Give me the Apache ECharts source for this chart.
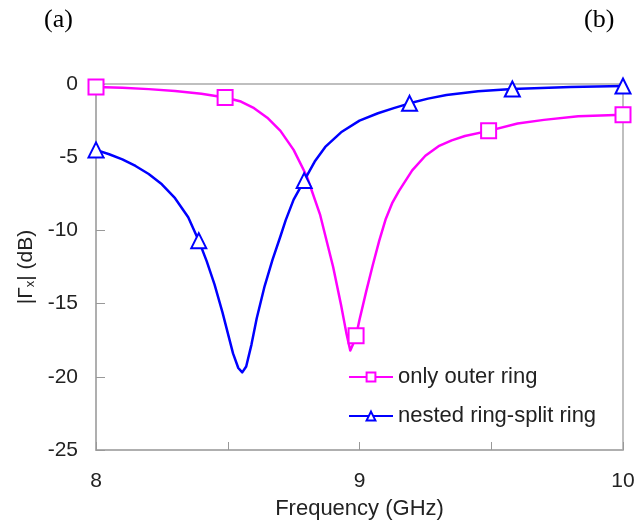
<!DOCTYPE html>
<html>
<head>
<meta charset="utf-8">
<script src="https://cdn.jsdelivr.net/npm/echarts@6/dist/echarts.min.js"></script>
<style>
html,body{margin:0;padding:0;background:#fff;}
#c{width:638px;height:526px;}
</style>
</head>
<body>
<div id="c"></div>
<script>
// Frequency (GHz) and |Γx| (dB)
const outerFreq = [8.00, 8.10, 8.20, 8.30, 8.40, 8.49, 8.55, 8.60, 8.65, 8.70, 8.75, 8.80, 8.85, 8.90, 8.93, 8.95, 8.965, 8.975, 8.987, 9.00, 9.025, 9.05, 9.075, 9.10, 9.125, 9.15, 9.20, 9.25, 9.30, 9.35, 9.40, 9.49, 9.60, 9.70, 9.83, 10.00];
const outerDb   = [-0.2, -0.25, -0.35, -0.48, -0.66, -0.92, -1.2, -1.65, -2.3, -3.2, -4.5, -6.3, -8.9, -12.5, -15.1, -17.0, -18.2, -17.8, -17.2, -16.1, -14.2, -12.4, -10.7, -9.2, -8.1, -7.3, -5.9, -4.9, -4.25, -3.85, -3.55, -3.2, -2.7, -2.45, -2.2, -2.1];
const outerMarkers = [8.00, 8.49, 8.987, 9.49, 10.00];

const nestedFreq = [8.00, 8.05, 8.10, 8.15, 8.20, 8.25, 8.30, 8.35, 8.39, 8.42, 8.45, 8.48, 8.50, 8.52, 8.54, 8.555, 8.57, 8.59, 8.61, 8.64, 8.67, 8.70, 8.72, 8.75, 8.79, 8.83, 8.87, 8.93, 9.00, 9.07, 9.13, 9.19, 9.26, 9.33, 9.45, 9.58, 9.80, 10.00];
const nestedDb   = [-4.5, -4.8, -5.15, -5.6, -6.15, -6.85, -7.8, -9.1, -10.7, -12.1, -13.7, -15.6, -17.0, -18.4, -19.4, -19.7, -19.3, -17.8, -16.0, -13.8, -12.0, -10.4, -9.3, -7.9, -6.6, -5.3, -4.3, -3.3, -2.5, -2.0, -1.65, -1.32, -1.0, -0.75, -0.5, -0.34, -0.2, -0.14];
const nestedMarkers = [8.00, 8.39, 8.79, 9.19, 9.58, 10.00];

const seriesNames = ['only outer ring', 'nested ring-split ring'];
const xTickLabels = [8, 9, 10];

function build(freq, db, markers) {
  return freq.map((f, i) => {
    const item = { value: [f, db[i]] };
    if (markers.indexOf(f) < 0) item.symbol = 'none';
    return item;
  });
}

const chart = echarts.init(document.getElementById('c'));
const font = 'Liberation Sans, Arial, sans-serif';
chart.setOption({
  animation: false,
  backgroundColor: '#fff',
  graphic: [
    { type: 'text', left: 44, top: 7, style: { text: '(a)', font: '26px "Liberation Serif", "Times New Roman", serif', fill: '#000' } },
    { type: 'text', left: 584, top: 7, style: { text: '(b)', font: '26px "Liberation Serif", "Times New Roman", serif', fill: '#000' } }
  ],
  grid: { left: 96, right: 15, top: 84, bottom: 76, show: true, borderColor: '#aaa', borderWidth: 1.5, backgroundColor: 'transparent' },
  legend: {
    orient: 'vertical', left: 343, top: 361, itemGap: 17, itemWidth: 44, itemHeight: 11,
    textStyle: { fontFamily: font, fontSize: 22, color: '#222' },
    data: seriesNames
  },
  xAxis: {
    type: 'value', min: 8, max: 10, interval: 0.5,
    name: 'Frequency (GHz)', nameLocation: 'middle', nameGap: 48,
    nameTextStyle: { fontFamily: font, fontSize: 22, color: '#222' },
    axisLine: { onZero: false, lineStyle: { color: '#aaa', width: 1.5 } },
    axisTick: { inside: true, length: 8, lineStyle: { color: '#999' } },
    axisLabel: { fontFamily: font, fontSize: 21, color: '#222', margin: 21,
      formatter: v => (xTickLabels.indexOf(Math.round(v * 100) / 100) >= 0 ? String(v) : '') },
    splitLine: { show: false }
  },
  yAxis: {
    type: 'value', min: -25, max: 0, interval: 5,
    name: '|Γ{sub|x}| (dB)', nameLocation: 'middle', nameGap: 55, nameRotate: 90,
    nameTextStyle: { fontFamily: font, fontSize: 21, color: '#222',
      rich: { sub: { fontFamily: font, fontSize: 13, color: '#222', verticalAlign: 'bottom', padding: [9, 0, 0, 0] } } },
    axisLine: { onZero: false, lineStyle: { color: '#aaa', width: 1.5 } },
    axisTick: { inside: true, length: 9, lineStyle: { color: '#999' } },
    axisLabel: { fontFamily: font, fontSize: 21, color: '#222', margin: 18 },
    splitLine: { show: false }
  },
  series: [
    {
      name: seriesNames[0], type: 'line', smooth: false,
      data: build(outerFreq, outerDb, outerMarkers),
      symbol: 'emptyRect', symbolSize: 15, showAllSymbol: true,
      lineStyle: { color: '#ff00ff', width: 2.5, join: 'round' },
      itemStyle: { color: '#ff00ff', borderColor: '#ff00ff', borderWidth: 2 }
    },
    {
      name: seriesNames[1], type: 'line', smooth: false,
      data: build(nestedFreq, nestedDb, nestedMarkers),
      symbol: 'emptyTriangle', symbolSize: 15, showAllSymbol: true,
      lineStyle: { color: '#0000ff', width: 2.5, join: 'round' },
      itemStyle: { color: '#0000ff', borderColor: '#0000ff', borderWidth: 2 }
    }
  ]
});
</script>
</body>
</html>
